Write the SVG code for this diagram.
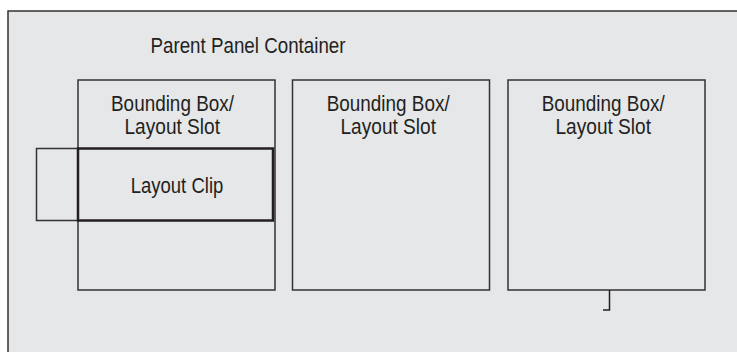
<svg xmlns="http://www.w3.org/2000/svg" width="737" height="352" viewBox="0 0 737 352">
<style>
.t{font-family:"Liberation Sans",Arial,sans-serif;font-size:22.5px;fill:#231f20}
.box{fill:none;stroke:#333;stroke-width:1.5}
.clip{fill:none;stroke:#231f20;stroke-width:2.5}
.ln{fill:none;stroke:#231f20;stroke-width:1.5}
</style>
<rect x="0" y="0" width="737" height="352" fill="#fff"/>
<g id="parent">
<rect x="8" y="11" width="740" height="350" fill="#e6e7e9" stroke="#333" stroke-width="1.5"/>
<text class="t" x="150.5" y="53.3" textLength="195" lengthAdjust="spacingAndGlyphs">Parent Panel Container</text>
</g>
<g id="box1">
<rect class="box" x="78" y="80" width="197" height="210"/>
<text class="t" x="111" y="111" textLength="123" lengthAdjust="spacingAndGlyphs">Bounding Box/</text>
<text class="t" x="124.5" y="134.3" textLength="95.5" lengthAdjust="spacingAndGlyphs">Layout Slot</text>
</g>
<g id="box2">
<rect class="box" x="292.5" y="80" width="197" height="210"/>
<text class="t" x="326.7" y="111" textLength="123" lengthAdjust="spacingAndGlyphs">Bounding Box/</text>
<text class="t" x="340.5" y="134.3" textLength="95.5" lengthAdjust="spacingAndGlyphs">Layout Slot</text>
</g>
<g id="box3">
<rect class="box" x="508" y="80" width="197" height="210"/>
<text class="t" x="541.7" y="111" textLength="123" lengthAdjust="spacingAndGlyphs">Bounding Box/</text>
<text class="t" x="555.5" y="134.3" textLength="95.5" lengthAdjust="spacingAndGlyphs">Layout Slot</text>
</g>
<g id="overflow">
<rect class="box" x="36.5" y="148.5" width="41.5" height="72"/>
</g>
<g id="clip">
<rect class="clip" x="78" y="148.5" width="195" height="72"/>
<text class="t" x="130.7" y="192.7" textLength="92.6" lengthAdjust="spacingAndGlyphs">Layout Clip</text>
</g>
<g id="connectors">
<path class="ln" d="M609.5 290 V310 H603"/>
</g>
</svg>
